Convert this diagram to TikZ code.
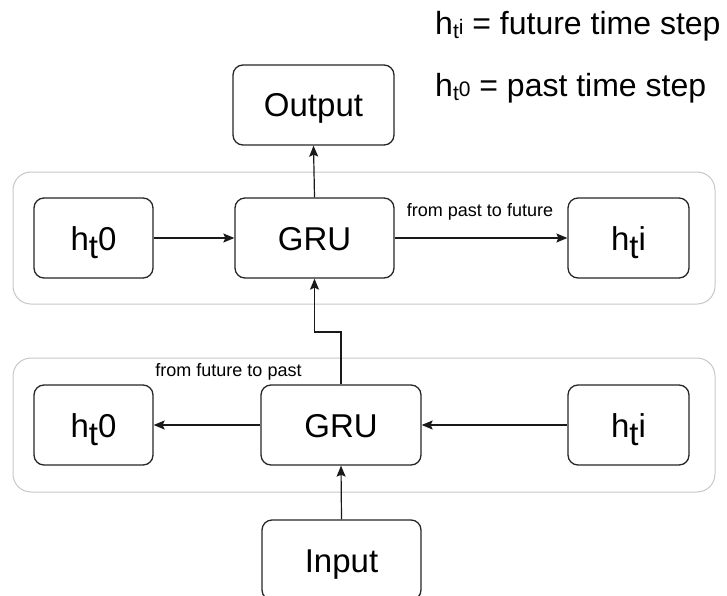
\documentclass[tikz,border=0pt]{standalone}
\usepackage{fontspec}
\setmainfont{Liberation Sans}
\usetikzlibrary{arrows.meta}
% h with a lowered subscript t
\newcommand\hsubbig[1]{h\raisebox{-8pt}{t}#1}
\newcommand\hsubsmall[1]{h{\fontsize{21}{21}\selectfont\raisebox{-4pt}{t}#1}}
\begin{document}
\begin{tikzpicture}[x=1pt,y=-1pt,
  unit/.style={draw=black!85, line width=1.3pt, rounded corners=10pt, fill=white,
    inner sep=0pt, minimum height=80pt, text height=24pt, text depth=0pt,
    font=\fontsize{33}{40}\selectfont},
  layer/.style={draw=black!22, line width=1pt, rounded corners=18pt},
  flow/.style={draw=black!90, line width=1.2pt, -{Stealth[length=11pt,width=9pt,inset=2pt]}},
  note/.style={font=\fontsize{18}{22}\selectfont, inner sep=0pt},
  legend/.style={font=\fontsize{32}{38}\selectfont, inner sep=0pt, anchor=base west}]
\useasboundingbox (0,0) rectangle (727,596);
\clip (0,0) rectangle (727,596);

% the two direction layers
\draw[layer] (13,172) rectangle (715,304);
\draw[layer] (13,358) rectangle (715,492);

% forward layer
\node[unit, minimum width=119pt] (h0a) at (93.5,238) {\hsubbig{0}};
\node[unit, minimum width=159pt] (gA) at (314.5,238) {GRU};
\node[unit, minimum width=121pt] (hia) at (628.5,238) {\hsubbig{i}};

% backward layer
\node[unit, minimum width=119pt] (h0b) at (93.5,425) {\hsubbig{0}};
\node[unit, minimum width=160pt] (gB) at (341,425) {GRU};
\node[unit, minimum width=121pt] (hib) at (628.5,425) {\hsubbig{i}};

% input and output
\node[unit, minimum width=161pt] (out) at (313.5,105) {Output};
\node[unit, minimum width=159pt] (inp) at (341.5,560) {Input};

% connectors
\draw[flow] (h0a) -- (gA);
\draw[flow] (gA) -- (hia);
\draw[flow] (gA.north) -- (out.south);
\draw[flow] (hib) -- (gB);
\draw[flow] (gB) -- (h0b);
\draw[flow] (inp.north) -- (gB.south);
\coordinate (bend) at (341,332);
\draw[flow] (gB.north) -- (gB.north |- bend) -| (gA.south);

% direction labels
\node[note] (lblf) at (480,212) {from past to future};
\node[note] (lblb) at (228.5,372) {from future to past};

% legend
\node[legend] (leg1) at (435,35) {\hsubsmall{i} = future time step};
\node[legend] (leg2) at (435,97) {\hsubsmall{0} = past time step};
\end{tikzpicture}
\end{document}
